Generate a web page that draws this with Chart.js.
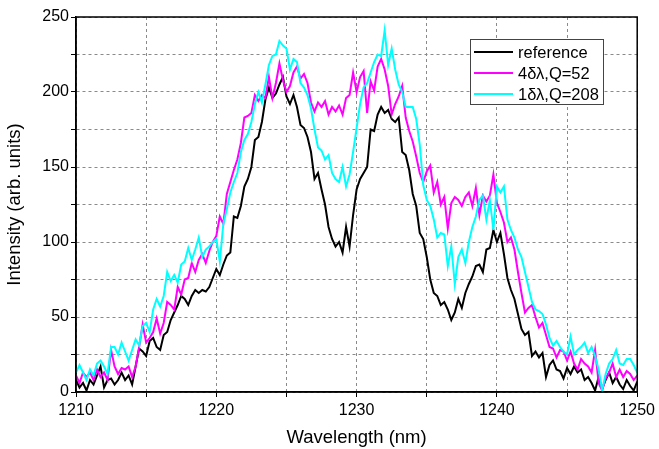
<!DOCTYPE html>
<html>
<head>
<meta charset="utf-8">
<script src="https://cdn.jsdelivr.net/npm/chart.js@4/dist/chart.umd.min.js"></script>
<style>
  html, body { margin: 0; padding: 0; background: #fff; }
  #wrap { width: 659px; height: 449px; }
</style>
</head>
<body>
<div id="wrap"><canvas id="spectrum" width="659" height="449"></canvas></div>
<script>
// ---------------------------------------------------------------------------
// data read off the figure, sampled every 0.25 nm from 1210 to 1250 nm
// ---------------------------------------------------------------------------
const wlStart = 1210;
const wlStep = 0.25;
const wavelengths = Array.from({ length: 161 }, (_, i) => wlStart + i * wlStep);

const seriesLabels = ['reference', '4\u03b4\u03bb,Q=52', '1\u03b4\u03bb,Q=208'];
const seriesColors = ['#000000', '#ff00ff', '#00ffff'];

const reference = [
    8, 3, 6, 1, 8, 5, 11, 17, 3, 8, 9, 5, 8, 13, 8, 11, 5, 17, 29, 27,
    24, 34, 36, 30, 28, 38, 40, 48, 53, 58, 64, 62, 58, 64, 68, 66, 68, 67, 70, 76,
    82, 78, 85, 91, 93, 117, 116, 124, 137, 142, 150, 168, 170, 180, 195, 203, 196, 199, 205, 210,
    197, 192, 198, 190, 178, 176, 170, 160, 142, 146, 135, 125, 110, 102, 97, 100, 93, 110, 97, 118,
    135, 142, 146, 150, 175, 174, 185, 190, 186, 188, 182, 180, 183, 160, 158, 148, 132, 124, 106, 102,
    90, 75, 66, 64, 58, 60, 55, 48, 53, 62, 56, 66, 72, 77, 84, 85, 80, 95, 96, 108,
    100, 106, 92, 76, 68, 62, 52, 42, 38, 40, 24, 27, 23, 26, 10, 18, 21, 15, 14, 9,
    16, 12, 17, 13, 15, 8, 10, 6, 1, 10, 2, 8, 13, 6, 10, 5, 2, 8, 4, 1,
    7
];

const q52 = [
    11, 6, 13, 10, 13, 8, 15, 10, 13, 8, 28, 17, 12, 16, 15, 17, 10, 17, 30, 45,
    33, 36, 40, 49, 39, 46, 60, 58, 55, 70, 65, 75, 76, 86, 80, 88, 92, 86, 94, 100,
    104, 117, 112, 132, 140, 148, 155, 166, 183, 184, 186, 198, 194, 198, 196, 210, 196, 206, 219, 208,
    200, 204, 213, 217, 209, 212, 206, 193, 187, 193, 190, 194, 185, 190, 187, 191, 185, 196, 198, 213,
    200, 210, 214, 186, 207, 201, 217, 222, 215, 204, 185, 192, 197, 204, 183, 174, 167, 157, 146, 140,
    147, 151, 133, 140, 125, 130, 109, 126, 130, 128, 124, 130, 133, 124, 136, 118, 131, 127, 131, 145,
    126, 120, 113, 100, 103, 95, 80, 66, 53, 56, 58, 50, 43, 46, 38, 30, 29, 23, 28, 27,
    21, 27, 19, 15, 22, 19, 17, 13, 28, 6, 1, 9, 13, 19, 10, 15, 10, 14, 12, 8,
    11
];

const q208 = [
    13, 18, 13, 8, 15, 11, 19, 21, 17, 12, 30, 30, 25, 33, 27, 21, 28, 35, 31, 44,
    46, 40, 55, 62, 57, 64, 80, 74, 78, 73, 85, 87, 96, 88, 95, 103, 90, 95, 97, 100,
    102, 87, 112, 122, 133, 140, 146, 160, 168, 172, 180, 192, 200, 193, 205, 218, 224, 225, 234, 231,
    229, 215, 222, 220, 206, 203, 198, 189, 175, 163, 161, 155, 158, 146, 142, 140, 150, 137, 145, 160,
    176, 192, 203, 206, 213, 220, 225, 224, 241, 218, 229, 215, 205, 200, 190, 190, 190, 182, 165, 138,
    128, 124, 115, 103, 106, 105, 84, 97, 72, 90, 95, 86, 100, 110, 117, 128, 131, 115, 128, 108,
    137, 133, 137, 115, 108, 103, 95, 90, 80, 70, 60, 55, 54, 52, 45, 36, 31, 34, 30, 27,
    25, 37, 25, 28, 30, 33, 26, 30, 24, 15, 1, 12, 19, 22, 28, 19, 18, 22, 22, 18,
    13
];

const xMin = 1210, xMax = 1250, xStep = 5, xLabelEvery = 10;
const yMin = 0, yMax = 250, yStep = 25, yLabelEvery = 50;

// ---------------------------------------------------------------------------
// plugins: frame round the plot area and the boxed legend
// ---------------------------------------------------------------------------
const framePlugin = {
    id: 'frame',
    afterDatasetsDraw(chart) {
        const { ctx, chartArea: a } = chart;
        ctx.save();
        ctx.strokeStyle = '#000';
        ctx.lineWidth = 1.5;
        ctx.strokeRect(a.left, a.top, a.right - a.left, a.bottom - a.top);
        ctx.restore();
    }
};

const legendBoxPlugin = {
    id: 'legendBox',
    afterDatasetsDraw(chart) {
        const ctx = chart.ctx;
        const box = { x: 470, y: 39, w: 133, h: 65 };
        ctx.save();
        ctx.fillStyle = '#fff';
        ctx.fillRect(box.x, box.y, box.w, box.h);
        ctx.strokeStyle = '#444';
        ctx.lineWidth = 1;
        ctx.strokeRect(box.x + 0.5, box.y + 0.5, box.w, box.h);
        ctx.font = '16.5px "Liberation Sans", Arial, sans-serif';
        ctx.textBaseline = 'middle';
        // legend rows follow the series order, not the drawing order
        seriesLabels.forEach((label, i) => {
            const y = box.y + 13 + i * 21;
            ctx.strokeStyle = seriesColors[i];
            ctx.lineWidth = 2;
            ctx.beginPath();
            ctx.moveTo(box.x + 4, y);
            ctx.lineTo(box.x + 43, y);
            ctx.stroke();
            ctx.fillStyle = '#000';
            ctx.fillText(label, box.x + 48, y + 1);
        });
        ctx.restore();
    }
};

// ---------------------------------------------------------------------------
// chart
// ---------------------------------------------------------------------------
function serie(values) {
    return values.map((v, i) => ({ x: wavelengths[i], y: v }));
}

const tickFont = { family: '"Liberation Sans", Arial, sans-serif', size: 16 };
const titleFont = { family: '"Liberation Sans", Arial, sans-serif', size: 18.5 };

new Chart(document.getElementById('spectrum'), {
    type: 'line',
    data: {
        // later series drawn on top: reference at the bottom, 1δλ on top
        datasets: [reference, q52, q208].map((vals, i) => ({
            label: seriesLabels[i],
            data: serie(vals),
            borderColor: seriesColors[i],
            borderWidth: 2,
            pointRadius: 0,
            tension: 0,
            fill: false,
            order: 3 - i
        }))
    },
    options: {
        responsive: false,
        animation: false,
        layout: { padding: { left: 0, right: 19, top: 17, bottom: 0 } },
        plugins: {
            legend: { display: false },
            tooltip: { enabled: false }
        },
        scales: {
            x: {
                type: 'linear',
                min: xMin,
                max: xMax,
                ticks: {
                    stepSize: xStep,
                    autoSkip: false,
                    maxRotation: 0,
                    padding: 4,
                    color: '#000',
                    font: tickFont,
                    callback: v => (v % xLabelEvery === 0 ? v : '')
                },
                grid: { color: '#8a8a8a', tickColor: '#000', tickLength: 5, lineWidth: 1 },
                border: { dash: [3, 3], color: '#000', width: 1.5 },
                title: { display: true, text: 'Wavelength (nm)', color: '#000', font: titleFont, padding: 0 },
                afterFit: s => { s.height = 57; }
            },
            y: {
                min: yMin,
                max: yMax,
                ticks: {
                    stepSize: yStep,
                    autoSkip: false,
                    padding: 2,
                    color: '#000',
                    font: tickFont,
                    callback: v => (v % yLabelEvery === 0 ? v : '')
                },
                grid: { color: '#8a8a8a', tickColor: '#000', tickLength: 5, lineWidth: 1 },
                border: { dash: [3, 3], color: '#000', width: 1.5 },
                title: { display: true, text: 'Intensity (arb. units)', color: '#000', font: titleFont, padding: 4 },
                afterFit: s => { s.width = 76; }
            }
        }
    },
    plugins: [framePlugin, legendBoxPlugin]
});
</script>
</body>
</html>
